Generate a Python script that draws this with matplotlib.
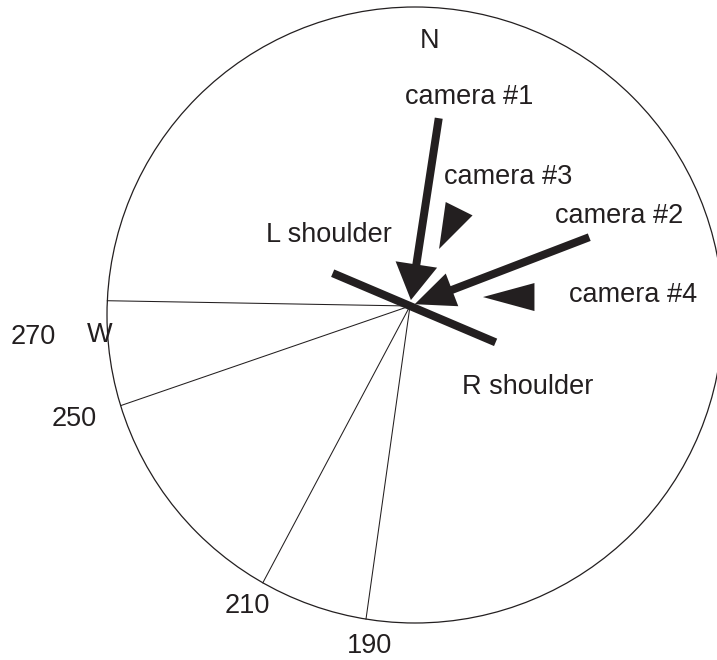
import numpy as np
import matplotlib
matplotlib.use('Agg')
import matplotlib.pyplot as plt
from matplotlib.patches import Circle, FancyArrow, Polygon

# ---------------- data (pixel-space diagram, bearings in degrees from N) ----
hub = (410, 306)
circle_center = (415, 315)
circle_radius = 308

ref_bearings = [271, 251, 208, 188]          # drawn directions of the radial lines
ref_labels = ['270', '250', '210', '190']

arrow_names = ['camera #1', 'camera #2']
arrow_bearings = [8.7, 69.0]                 # direction the camera sits in
arrow_start_r = [190, 192]
arrow_tip_r = [6, 5]
arrow_head_w = [42, 35]
arrow_head_l = [36, 40]

tri_names = ['camera #3', 'camera #4']
tri_tip_bearing = [27, 83]
tri_tip_r = [64, 73.5]
tri_pointing = [206.5, 270]
tri_len = [45, 51.5]
tri_wid = [30, 28]

shoulder_bearing = 113
shoulder_left_len = 84
shoulder_right_len = 93

INK = '#231f20'
FONT = 'Liberation Sans'
FS = 19.5


def unit(bearing):
    b = np.radians(bearing)
    return np.array([np.sin(b), -np.cos(b)])   # screen coords (y down)


def pt(bearing, r):
    return np.array(hub, float) + r * unit(bearing)


def ray_circle(bearing):
    d = unit(bearing)
    hc = np.array(hub, float) - np.array(circle_center, float)
    bdot = d @ hc
    t = -bdot + np.sqrt(bdot ** 2 - (hc @ hc - circle_radius ** 2))
    return np.array(hub, float) + t * d


fig = plt.figure(figsize=(7.17, 6.60), dpi=100)
ax = fig.add_axes([0, 0, 1, 1])
ax.set_xlim(0, 717)
ax.set_ylim(660, 0)
ax.set_aspect('equal')
ax.axis('off')

# circle
ax.add_patch(Circle(circle_center, circle_radius, fill=False, ec=INK, lw=0.9))

# radial reference lines
for b in ref_bearings:
    e = ray_circle(b)
    ax.plot([hub[0], e[0]], [hub[1], e[1]], color=INK, lw=0.75)

# camera arrows
for b, rs, rt, hw, hl in zip(arrow_bearings, arrow_start_r, arrow_tip_r,
                             arrow_head_w, arrow_head_l):
    s = pt(b, rs)
    t = pt(b, rt)
    ax.add_patch(FancyArrow(s[0], s[1], t[0] - s[0], t[1] - s[1], width=8,
                            head_width=hw, head_length=hl,
                            length_includes_head=True, fc=INK, ec='none'))

# camera triangles
for tb, tr, pdir, L, W in zip(tri_tip_bearing, tri_tip_r, tri_pointing,
                              tri_len, tri_wid):
    tip = pt(tb, tr)
    u = unit(pdir)
    n = np.array([-u[1], u[0]])
    base = tip - L * u
    verts = [tip, base + W / 2 * n, base - W / 2 * n]
    ax.add_patch(Polygon(verts, closed=True, fc=INK, ec='none'))

# shoulder line
l_end = pt(shoulder_bearing + 180, shoulder_left_len)
r_end = pt(shoulder_bearing, shoulder_right_len)
ax.plot([l_end[0], r_end[0]], [l_end[1], r_end[1]], color=INK, lw=5.8,
        solid_capstyle='butt')

# texts
def txt(x, y, s):
    ax.text(x, y, s, ha='center', va='baseline', fontsize=FS,
            family=FONT, color=INK)

txt(429.5, 48, 'N')
txt(469, 104, 'camera #1')
txt(508, 184, 'camera #3')
txt(619, 223, 'camera #2')
txt(633, 302, 'camera #4')
txt(328.5, 242, 'L shoulder')
txt(528, 394, 'R shoulder')
txt(100, 342, 'W')
for lab, (x, y) in zip(ref_labels, [(33.5, 344), (74.5, 426),
                                    (247.5, 613), (369.5, 653)]):
    txt(x, y, lab)

fig.savefig('out.png', dpi=100)
